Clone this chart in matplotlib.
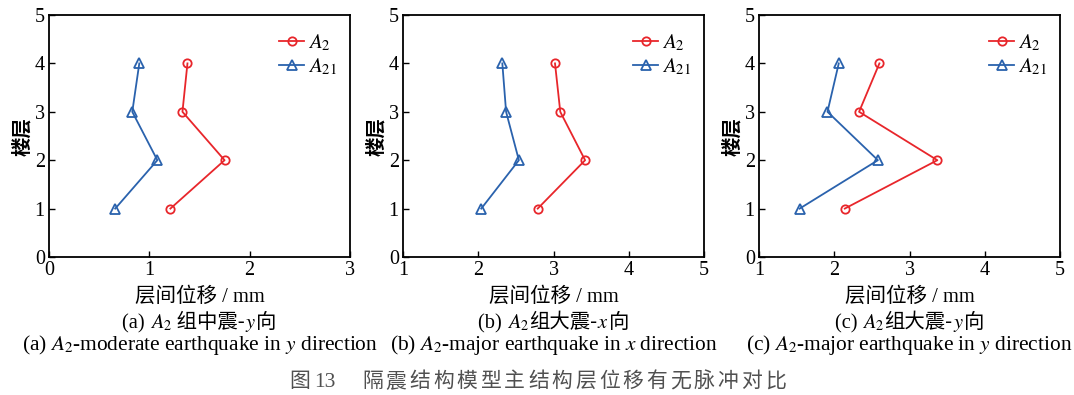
import matplotlib
matplotlib.use("Agg")
import matplotlib.pyplot as plt

plt.rcParams['font.family'] = ['Liberation Serif', 'Noto Sans CJK SC']
plt.rcParams['mathtext.fontset'] = 'stix'

floors = [1, 2, 3, 4]

# Inter-storey displacement (mm)
a_A2 = [1.21, 1.75, 1.33, 1.38]
a_A21 = [0.66, 1.08, 0.83, 0.90]
b_A2 = [2.79, 3.42, 3.09, 3.02]
b_A21 = [2.04, 2.54, 2.37, 2.32]
c_A2 = [2.14, 3.37, 2.33, 2.60]
c_A21 = [1.54, 2.58, 1.91, 2.06]

xlims = [(0, 3), (1, 5), (1, 5)]
xticks = [[0, 1, 2, 3], [1, 2, 3, 4, 5], [1, 2, 3, 4, 5]]
series = [(a_A2, a_A21), (b_A2, b_A21), (c_A2, c_A21)]

SERIF = ['Liberation Serif']
CJK = ['Noto Sans CJK SC']
sub_cn = [
    [('(a) ', SERIF), (r'$A_2$', SERIF), (' 组中震-', CJK), (r'$y$', SERIF), ('向', CJK)],
    [('(b) ', SERIF), (r'$A_2$', SERIF), ('组大震-', CJK), (r'$x$', SERIF), ('向', CJK)],
    [('(c) ', SERIF), (r'$A_2$', SERIF), ('组大震-', CJK), (r'$y$', SERIF), ('向', CJK)],
]
sub_en = [r'(a) $A_2$-moderate earthquake in $y$ direction',
          r'(b) $A_2$-major earthquake in $x$ direction',
          r'(c) $A_2$-major earthquake in $y$ direction']
xlabel = '层间位移 / mm'
ylabel = '楼层'
fig_no = ['图', '13']
caption = '隔震结构模型主结构层位移有无脉冲对比'

W, H = 1074, 395
fig = plt.figure(figsize=(W / 100, H / 100), dpi=100)
renderer = fig.canvas.get_renderer()


def rich_text(cx_px, base_px, pieces, fontsize):
    """Lay out text pieces with different fonts side by side, centred on cx_px."""
    items = []
    total = 0.0
    for s, fam in pieces:
        t = fig.text(0, 1 - base_px / H, s, family=fam, fontsize=fontsize,
                     ha='left', va='baseline')
        w = t.get_window_extent(renderer).width
        items.append((t, w))
        total += w
    x = cx_px - total / 2
    for t, w in items:
        t.set_x(x / W)
        x += w


lefts = [49, 403, 759]
width = 301
top, bottom = 15, 257

red = '#e8262b'
blue = '#2a62ad'

for i in range(3):
    ax = fig.add_axes([lefts[i] / W, 1 - bottom / H, width / W, (bottom - top) / H])
    A2, A21 = series[i]
    ax.plot(A2, floors, color=red, lw=1.3, marker='o', ms=6, mfc='none',
            mew=1.3, label=r'$A_2$')
    ax.plot(A21, floors, color=blue, lw=1.3, marker='^', ms=6.5, mfc='none',
            mew=1.3, label=r'$A_{21}$')
    ax.set_xlim(*xlims[i])
    ax.set_ylim(0, 5)
    ax.set_xticks(xticks[i])
    ax.set_yticks([0, 1, 2, 3, 4, 5])
    ax.tick_params(direction='in', length=4, width=1, labelsize=14.5, pad=3)
    for s in ax.spines.values():
        s.set_linewidth(1.3)
    ax.set_ylabel(ylabel, fontsize=14, family=CJK, fontweight='bold', labelpad=2)
    ax.legend(loc='upper right', frameon=False, fontsize=15,
              handlelength=1.2, handletextpad=0.2, labelspacing=0.15,
              borderaxespad=0.0, bbox_to_anchor=(0.985, 0.963))
    cx = lefts[i] + width / 2
    fig.text(cx / W, 1 - 297 / H, xlabel, ha='center', va='center', fontsize=14.8)
    rich_text(cx, 328, sub_cn[i], 14.7)
    fig.text(cx / W, 1 - 345 / H, sub_en[i], ha='center', va='center', fontsize=15.4)

# Figure caption: number, then letter-spaced title
cap_color = '#505050'
cap_base = 1 - 387 / H
fig.text(289 / W, cap_base, fig_no[0], family=CJK, fontsize=15, color=cap_color,
         ha='left', va='baseline')
fig.text(314 / W, cap_base, fig_no[1], family=SERIF, fontsize=15.5, color=cap_color,
         ha='left', va='baseline')
pitch = 23.7
for k, ch in enumerate(caption):
    fig.text((362 + k * pitch) / W, cap_base, ch, family=CJK, fontsize=15,
             color=cap_color, ha='left', va='baseline')

fig.savefig('out.png', dpi=100)
